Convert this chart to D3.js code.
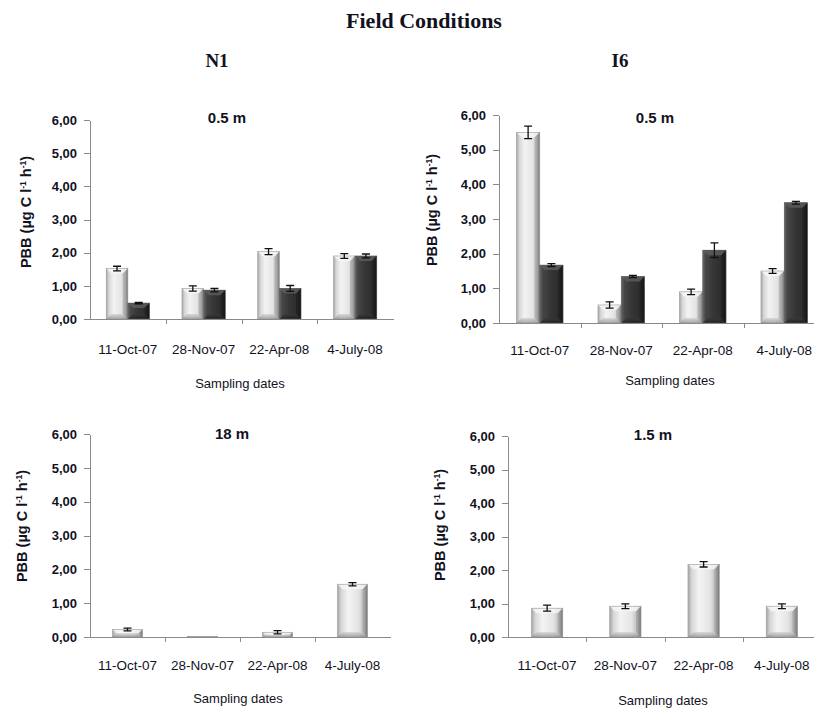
<!DOCTYPE html>
<html lang="en">
<head>
    <meta charset="UTF-8"/>
    <title>Field Conditions</title>
    <script src="https://d3js.org/d3.v7.min.js" charset="utf-8"></script>
    <style type="text/css">
        body { margin: 0; background: #ffffff; }
        text { font-family: "Liberation Sans", Arial, sans-serif; fill: #12121e; }
        .axis path, .axis line { fill: none; stroke: #8a8a8a; stroke-width: 1px; shape-rendering: crispEdges; }
        .axis text { font-size: 13px; font-weight: bold; }
        .cat { font-size: 13.5px; }
        .xtitle { font-size: 13px; }
        .ptitle { font-size: 15px; font-weight: bold; }
        .ytitle { font-size: 14.5px; font-weight: bold; }
        .serif { font-family: "Liberation Serif", "Times New Roman", serif; font-weight: bold; }
        .err { stroke: #111; stroke-width: 1.3px; fill: none; }
    </style>
</head>
<body>
<svg width="814" height="708"></svg>
<script type="text/javascript">
    // sampling dates (categories)
    var dates = ["11-Oct-07", "28-Nov-07", "22-Apr-08", "4-July-08"];
    var yTicks = [0, 1, 2, 3, 4, 5, 6];

    // N1, 0.5 m
    var n1Shallow_a = [1.52, 0.92, 2.03, 1.90];
    var n1Shallow_aErr = [0.07, 0.08, 0.09, 0.07];
    var n1Shallow_b = [0.48, 0.87, 0.92, 1.90];
    var n1Shallow_bErr = [0.02, 0.05, 0.09, 0.06];

    // I6, 0.5 m
    var i6Shallow_a = [5.50, 0.52, 0.90, 1.50];
    var i6Shallow_aErr = [0.18, 0.09, 0.08, 0.07];
    var i6Shallow_b = [1.67, 1.34, 2.10, 3.47];
    var i6Shallow_bErr = [0.04, 0.03, 0.21, 0.04];

    // N1, 18 m
    var n1Deep = [0.22, 0.02, 0.14, 1.56];
    var n1DeepErr = [0.04, 0, 0.05, 0.05];

    // I6, 1.5 m
    var i6Deep = [0.86, 0.92, 2.17, 0.92];
    var i6DeepErr = [0.09, 0.07, 0.08, 0.07];

    var svg = d3.select("svg");

    // gradients for the bevelled bars
    var defs = svg.append("defs");
    function grad(id, vertical, stops) {
        var g = defs.append("linearGradient").attr("id", id)
            .attr("x1", "0").attr("x2", vertical ? "0" : "1")
            .attr("y1", "0").attr("y2", vertical ? "1" : "0");
        stops.forEach(function(s) {
            g.append("stop").attr("offset", s[0]).attr("stop-color", s[1]);
        });
    }
    grad("lightH", false, [["0%", "#a4a4a4"], ["12%", "#d6d6d6"], ["35%", "#f3f3f3"], ["70%", "#e4e4e4"], ["88%", "#bdbdbd"], ["100%", "#727272"]]);
    grad("darkH", false, [["0%", "#6a6a6a"], ["12%", "#474747"], ["45%", "#363636"], ["85%", "#2c2c2c"], ["100%", "#161616"]]);
    grad("lightB", true, [["0%", "#d0d0d0"], ["100%", "#8a8a8a"]]);
    grad("darkB", true, [["0%", "#3a3a3a"], ["100%", "#1a1a1a"]]);

    var styles = {
        light: { fill: "url(#lightH)", top: "#f8f8f8", bottom: "url(#lightB)", side: "#808080", edge: "#9c9c9c" },
        dark: { fill: "url(#darkH)", top: "#5e5e5e", bottom: "url(#darkB)", side: "#111111", edge: "#555555" }
    };

    function fmt(d) { return d3.format(".2f")(d).replace(".", ","); }

    function drawPanel(p) {
        var g = svg.append("g");

        var y = d3.scaleLinear().domain([0, 6]).range([p.yBot, p.yTop]);
        var x = d3.scaleBand().domain(dates).range([p.x0, p.x1]).padding(0);
        var xs = d3.scaleBand().domain(d3.range(p.series.length))
            .range([0, x.bandwidth()]).paddingInner(0).paddingOuter(0.75);
        var xb = d3.scaleLinear().domain([0, dates.length]).range([p.x0, p.x1]);

        // bars
        p.series.forEach(function(s, si) {
            var st = styles[s.style];
            dates.forEach(function(dt, i) {
                var v = s.values[i];
                var bx = x(dt) + xs(si), bw = xs.bandwidth();
                var by = y(v), bh = y(0) - y(v), yb = y(0);
                var bg = g.append("g");
                bg.append("rect").attr("x", bx).attr("y", by).attr("width", bw).attr("height", bh)
                    .attr("fill", st.fill);
                var b = Math.min(5, bh / 2);
                if (bh > 2) {
                    bg.append("path")
                        .attr("d", "M" + bx + "," + by + "L" + (bx + bw) + "," + by + "L" + (bx + bw - b) + "," + (by + b) + "L" + (bx + b) + "," + (by + b) + "Z")
                        .attr("fill", st.top).attr("opacity", 0.8);
                    bg.append("path")
                        .attr("d", "M" + bx + "," + yb + "L" + (bx + bw) + "," + yb + "L" + (bx + bw - b) + "," + (yb - b) + "L" + (bx + b) + "," + (yb - b) + "Z")
                        .attr("fill", st.bottom).attr("opacity", 0.7);
                    bg.append("path")
                        .attr("d", "M" + (bx + bw) + "," + by + "L" + (bx + bw) + "," + yb + "L" + (bx + bw - b) + "," + (yb - b) + "L" + (bx + bw - b) + "," + (by + b) + "Z")
                        .attr("fill", st.side).attr("opacity", 0.35);
                }
                bg.append("rect").attr("x", bx).attr("y", by).attr("width", bw).attr("height", bh)
                    .attr("fill", "none").attr("stroke", st.edge).attr("stroke-width", 0.6);

                // error bar
                var e = s.errors[i];
                if (e > 0) {
                    var cx = bx + bw / 2, cw = 4;
                    g.append("path").attr("class", "err")
                        .attr("d", "M" + cx + "," + y(v - e) + "V" + y(v + e)
                            + "M" + (cx - cw) + "," + y(v + e) + "H" + (cx + cw)
                            + "M" + (cx - cw) + "," + y(v - e) + "H" + (cx + cw));
                }
            });
        });

        // y axis
        g.append("g").attr("class", "axis")
            .attr("transform", "translate(" + p.x0 + ",0)")
            .call(d3.axisLeft(y).tickValues(yTicks).tickFormat(fmt).tickSize(6).tickSizeOuter(0).tickPadding(7));

        // x axis line with boundary ticks
        g.append("g").attr("class", "axis")
            .attr("transform", "translate(0," + p.yBot + ")")
            .call(d3.axisBottom(xb).tickValues([1, 2, 3]).tickFormat("").tickSize(5).tickSizeOuter(0));

        // category labels
        g.selectAll(".cat").data(dates).enter().append("text")
            .attr("class", "cat")
            .attr("x", function(d) { return x(d) + x.bandwidth() / 2; })
            .attr("y", p.catY).attr("dy", "0.35em")
            .attr("text-anchor", "middle")
            .text(function(d) { return d; });

        g.append("text").attr("class", "xtitle")
            .attr("x", p.xtX).attr("y", p.xtY).attr("dy", "0.35em")
            .attr("text-anchor", "middle").text("Sampling dates");

        g.append("text").attr("class", "ptitle")
            .attr("x", p.tX).attr("y", p.tY).attr("dy", "0.35em")
            .attr("text-anchor", "middle").text(p.title);

        var yt = g.append("text").attr("class", "ytitle")
            .attr("transform", "translate(" + p.ytX + "," + p.ytY + ") rotate(-90)")
            .attr("text-anchor", "middle").attr("dy", "0.35em");
        yt.append("tspan").text("PBB (\u00b5g C l");
        yt.append("tspan").attr("baseline-shift", "super").attr("font-size", "8.5px").text("-1");
        yt.append("tspan").text(" h");
        yt.append("tspan").attr("baseline-shift", "super").attr("font-size", "8.5px").text("-1");
        yt.append("tspan").text(")");
    }

    svg.append("text").attr("class", "serif")
        .attr("x", 424).attr("y", 20).attr("dy", "0.35em")
        .attr("text-anchor", "middle").style("font-size", "22px").text("Field Conditions");
    svg.append("text").attr("class", "serif")
        .attr("x", 217).attr("y", 60).attr("dy", "0.35em")
        .attr("text-anchor", "middle").style("font-size", "19px").text("N1");
    svg.append("text").attr("class", "serif")
        .attr("x", 620).attr("y", 60).attr("dy", "0.35em")
        .attr("text-anchor", "middle").style("font-size", "19px").text("I6");

    drawPanel({
        title: "0.5 m", x0: 90, x1: 393, yTop: 120, yBot: 319,
        tX: 227, tY: 118, ytX: 26, ytY: 212, catY: 349, xtX: 240, xtY: 383,
        series: [
            { style: "light", values: n1Shallow_a, errors: n1Shallow_aErr },
            { style: "dark", values: n1Shallow_b, errors: n1Shallow_bErr }
        ]
    });
    drawPanel({
        title: "0.5 m", x0: 499, x1: 825, yTop: 115, yBot: 323,
        tX: 655, tY: 118, ytX: 432, ytY: 210, catY: 350, xtX: 670, xtY: 380,
        series: [
            { style: "light", values: i6Shallow_a, errors: i6Shallow_aErr },
            { style: "dark", values: i6Shallow_b, errors: i6Shallow_bErr }
        ]
    });
    drawPanel({
        title: "18 m", x0: 90, x1: 390, yTop: 434, yBot: 637,
        tX: 232, tY: 434, ytX: 22, ytY: 526, catY: 665, xtX: 238, xtY: 698,
        series: [
            { style: "light", values: n1Deep, errors: n1DeepErr }
        ]
    });
    drawPanel({
        title: "1.5 m", x0: 508, x1: 821, yTop: 436, yBot: 637,
        tX: 653, tY: 435, ytX: 440, ytY: 525, catY: 665, xtX: 663, xtY: 700,
        series: [
            { style: "light", values: i6Deep, errors: i6DeepErr }
        ]
    });
</script>
</body>
</html>
